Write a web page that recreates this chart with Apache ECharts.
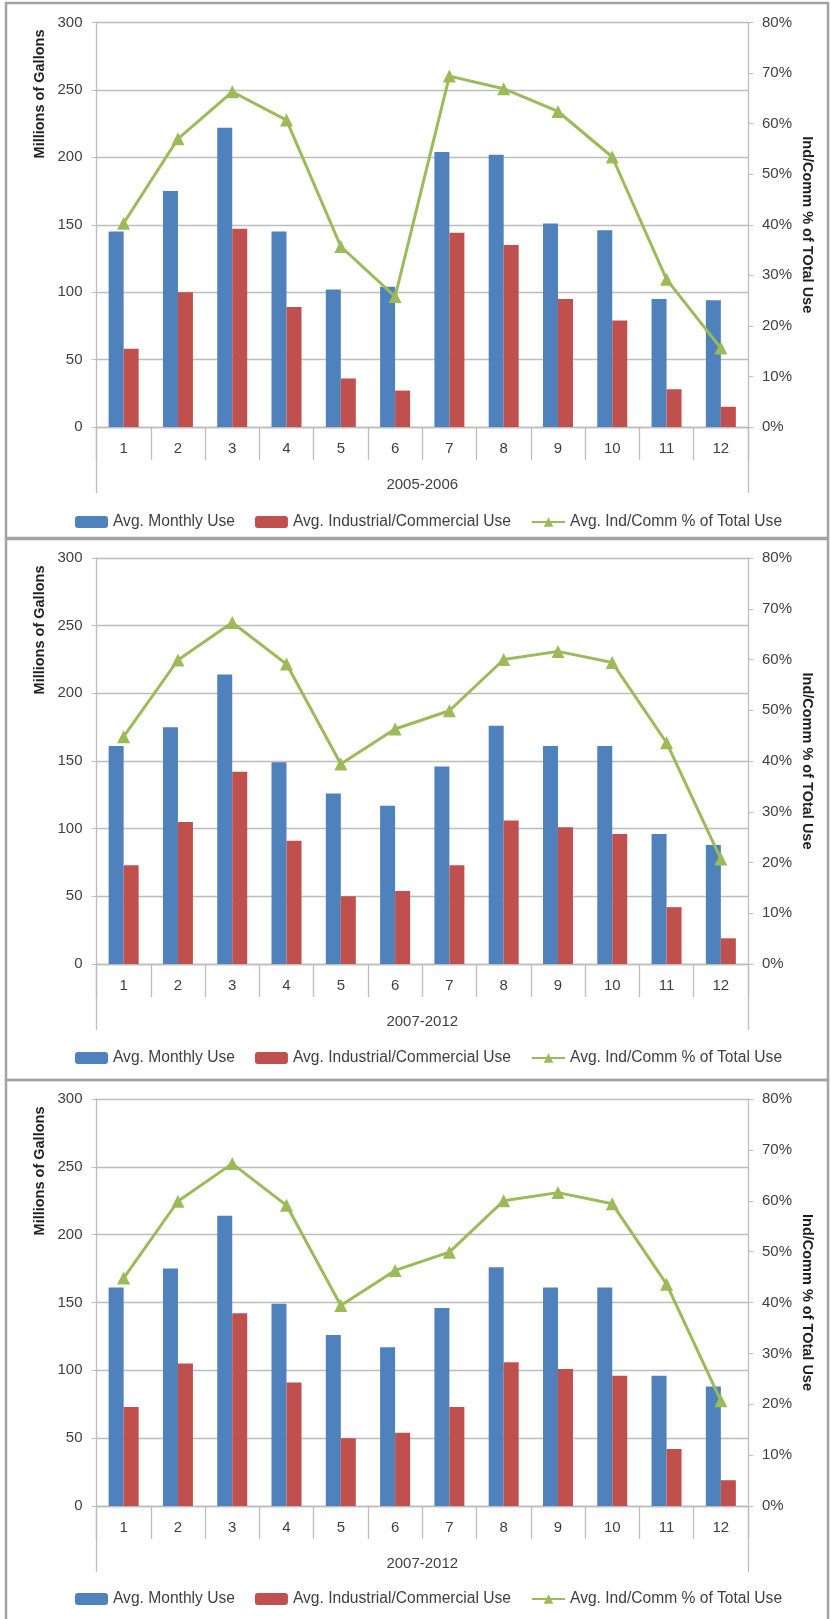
<!DOCTYPE html>
<html>
<head>
<meta charset="utf-8">
<script src="https://cdn.jsdelivr.net/npm/echarts@6/dist/echarts.min.js"></script>
<style>
html,body{margin:0;padding:0;background:#fff;}
#chart{width:830px;height:1619px;}
</style>
</head>
<body>
<div id="chart"></div>
<script>
// ---- data ----
const months = ['1','2','3','4','5','6','7','8','9','10','11','12'];
const periods = ['2005-2006', '2007-2012', '2007-2012'];
const seriesNames = ['Avg. Monthly Use', 'Avg. Industrial/Commercial Use', 'Avg. Ind/Comm % of Total Use'];

const monthlyUse2005 = [145, 175, 222, 145, 102, 104, 204, 202, 151, 146, 95, 94];
const indCommUse2005 = [58, 100, 147, 89, 36, 27, 144, 135, 95, 79, 28, 15];
const indCommPct2005 = [40.3, 57, 66.3, 60.7, 35.7, 25.8, 69.4, 66.9, 62.4, 53.4, 29.2, 15.6];

const monthlyUse2007 = [161, 175, 214, 149, 126, 117, 146, 176, 161, 161, 96, 88];
const indCommUse2007 = [73, 105, 142, 91, 50, 54, 73, 106, 101, 96, 42, 19];
const indCommPct2007 = [44.8, 59.9, 67.3, 59.1, 39.4, 46.3, 49.9, 60, 61.6, 59.4, 43.6, 20.7];

const panelData = [
  [monthlyUse2005, indCommUse2005, indCommPct2005],
  [monthlyUse2007, indCommUse2007, indCommPct2007],
  [monthlyUse2007, indCommUse2007, indCommPct2007]
];

// ---- layout ----
const panels = [
  {boxTop: 3,    boxH: 535, gridTop: 22.5, gridH: 404.5},
  {boxTop: 539,  boxH: 541, gridTop: 558,  gridH: 406},
  {boxTop: 1080, boxH: 545, gridTop: 1099, gridH: 407}
];
const gridLeft = 96.5, gridRight = 82;
const FONT = '"Liberation Sans", Arial, sans-serif';
const TXT = '#3f3f3f';
const AX = '#bdbdbd';
const BLUE = '#4f81bd', RED = '#c0504d', GREEN = '#9bbb59';

const grid = [], xAxis = [], yAxis = [], series = [], legend = [], graphic = [];

panels.forEach((p, i) => {
  grid.push({left: gridLeft, right: gridRight, top: p.gridTop, height: p.gridH, containLabel: false});
  xAxis.push({
    type: 'category', gridIndex: i, data: months, position: 'bottom',
    axisLine: {lineStyle: {color: AX, width: 1.3}},
    axisTick: {show: true, interval: 0, length: 33, lineStyle: {color: AX, width: 1.3}},
    axisLabel: {interval: 0, margin: 14, fontSize: 15, color: TXT, fontFamily: FONT},
    splitLine: {show: false}
  });
  xAxis.push({
    type: 'category', gridIndex: i, data: [periods[i]], position: 'bottom',
    axisLine: {show: false},
    axisTick: {show: true, length: 66, lineStyle: {color: AX, width: 1.3}},
    axisLabel: {margin: 50, fontSize: 15, color: TXT, fontFamily: FONT},
    splitLine: {show: false}
  });
  yAxis.push({
    type: 'value', gridIndex: i, min: 0, max: 300, interval: 50, position: 'left',
    axisLine: {show: true, lineStyle: {color: AX, width: 1.3}},
    axisTick: {show: true, length: 5, lineStyle: {color: AX}},
    axisLabel: {margin: 14, fontSize: 15, color: TXT, fontFamily: FONT},
    splitLine: {show: true, lineStyle: {color: AX, width: 1.3}}
  });
  yAxis.push({
    type: 'value', gridIndex: i, min: 0, max: 80, interval: 10, position: 'right',
    axisLine: {show: true, lineStyle: {color: AX, width: 1.3}},
    axisTick: {show: true, length: 5, lineStyle: {color: AX}},
    axisLabel: {margin: 14, fontSize: 15, color: TXT, fontFamily: FONT, formatter: '{value}%'},
    splitLine: {show: false}
  });
  const d = panelData[i];
  series.push({
    name: seriesNames[0], type: 'bar', xAxisIndex: 2 * i, yAxisIndex: 2 * i,
    data: d[0], barWidth: 15, barGap: '0%', itemStyle: {color: BLUE}
  });
  series.push({
    name: seriesNames[1], type: 'bar', xAxisIndex: 2 * i, yAxisIndex: 2 * i,
    data: d[1], barWidth: 15, barGap: '0%', itemStyle: {color: RED}
  });
  series.push({
    name: seriesNames[2], type: 'line', xAxisIndex: 2 * i, yAxisIndex: 2 * i + 1,
    data: d[2], symbol: 'triangle', symbolSize: 13, z: 5,
    lineStyle: {color: GREEN, width: 3}, itemStyle: {color: GREEN}
  });
  legend.push({
    data: seriesNames, left: 70, top: p.boxTop + 515 - 9,
    itemWidth: 33, itemHeight: 12, itemGap: 20,
    textStyle: {fontSize: 15.6, color: TXT, fontFamily: FONT},
    selectedMode: false
  });
  graphic.push({
    type: 'rect', shape: {x: 6, y: p.boxTop, width: 822, height: p.boxH},
    style: {fill: null, stroke: '#a3a3a3', lineWidth: 2.5}, z: 0, silent: true
  });
  graphic.push({
    type: 'text', x: 40, y: p.boxTop + 91, rotation: Math.PI / 2,
    style: {text: 'Millions of Gallons', fontSize: 14.5, fontWeight: 'bold', fill: '#1f1f1f',
      fontFamily: FONT, align: 'center', verticalAlign: 'middle'}, silent: true
  });
  graphic.push({
    type: 'text', x: 807, y: p.gridTop + p.gridH / 2, rotation: -Math.PI / 2,
    style: {text: 'Ind/Comm % of TOtal Use', fontSize: 14.5, fontWeight: 'bold', fill: '#1f1f1f',
      fontFamily: FONT, align: 'center', verticalAlign: 'middle'}, silent: true
  });
});

const chart = echarts.init(document.getElementById('chart'), null, {renderer: 'canvas'});
chart.setOption({
  animation: false,
  backgroundColor: '#ffffff',
  grid, xAxis, yAxis, series, legend, graphic
});
</script>
</body>
</html>
